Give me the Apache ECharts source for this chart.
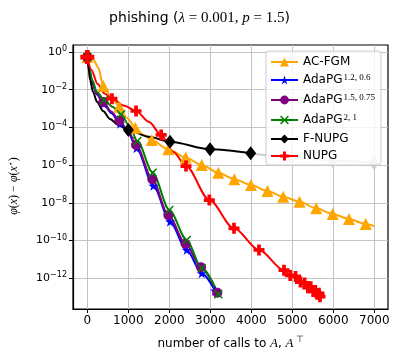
<!DOCTYPE html>
<html lang="en">

<head>
    <meta charset="UTF-8">
    <title>phishing</title>
    <script src="https://cdn.jsdelivr.net/npm/echarts@6/dist/echarts.min.js"></script>
    <style>
        body { margin: 0; background: #fff; }
    </style>
</head>

<body>
    <div id="chart" style="width:399px; height:358px;"></div>
    <script>
        // tick positions
        const xTicks = [0, 1000, 2000, 3000, 4000, 5000, 6000, 7000]
        const yTicks = [0, -2, -4, -6, -8, -10, -12]   // exponents of 10

        // series: x = number of calls, y = log10(gap)
        const acX = [0, 150, 260, 390, 560, 780, 970, 1170, 1370, 1570, 1975, 2400, 2790, 3195, 3585, 3993, 4395, 4780, 5176, 5585, 5985, 6383, 6790, 6993]
        const acY = [-0.27, -0.42, -0.8, -1.8, -2.3, -2.9, -3.5, -4.02, -4.4, -4.67, -5.16, -5.59, -6.0, -6.4, -6.75, -7.06, -7.37, -7.68, -7.94, -8.29, -8.59, -8.86, -9.12, -9.23]
        const acMarks = [0, 3, 5, 7, 9, 10, 11, 12, 13, 14, 15, 16, 17, 18, 19, 20, 21, 22]

        const ada1X = [0, 50, 120, 230, 400, 590, 800, 1000, 1200, 1610, 2017, 2424, 2790, 3115]
        const ada1Y = [-0.27, -1.0, -1.65, -2.25, -2.75, -3.25, -3.8, -4.3, -5.1, -7.1, -9.0, -10.5, -11.74, -12.66]
        const ada1Marks = [0, 4, 6, 8, 9, 10, 11, 12, 13]

        const ada2X = [0, 50, 120, 230, 390, 580, 780, 990, 1188, 1585, 1976, 2395, 2773, 3171]
        const ada2Y = [-0.27, -0.95, -1.6, -2.2, -2.65, -3.15, -3.64, -4.15, -4.93, -6.75, -8.65, -10.17, -11.42, -12.77]
        const ada2Marks = [0, 4, 6, 8, 9, 10, 11, 12, 13]

        const ada3X = [0, 50, 120, 230, 410, 610, 822, 1020, 1220, 1595, 2000, 2424, 2790, 3195]
        const ada3Y = [-0.27, -0.85, -1.5, -2.1, -2.55, -2.9, -3.3, -3.9, -4.72, -6.4, -8.38, -9.97, -11.47, -12.85]
        const ada3Marks = [0, 4, 6, 8, 9, 10, 11, 12, 13]

        const fnX = [0, 20, 66, 139, 237, 383, 554, 749, 1000, 1500, 2017, 2993, 3985]
        const fnY = [-0.27, -0.69, -1.49, -2.12, -2.65, -3.13, -3.55, -3.87, -4.14, -4.5, -4.76, -5.16, -5.37]
        const fnMarks = [0, 8, 10, 11, 12]

        const greyX = [3985, 4968, 5985, 6993]
        const greyY = [-5.37, -5.59, -5.77, -5.87]
        const greyMarks = [1, 2, 3]

        const nuX = [0, 100, 250, 420, 600, 900, 1188, 1500, 1800, 2100, 2407, 2976, 3578, 4188, 4798, 4950, 5080, 5200, 5300, 5380, 5450, 5510, 5560, 5610, 5650, 5676]
        const nuY = [-0.27, -0.95, -1.7, -2.2, -2.48, -2.85, -3.13, -3.7, -4.40, -5.3, -6.05, -7.85, -9.35, -10.5, -11.57, -11.85, -11.9, -12.2, -12.25, -12.5, -12.45, -12.7, -12.65, -12.85, -12.8, -12.98]
        const nuMarks = [0, 4, 6, 8, 10, 11, 12, 13, 14, 15, 16, 17, 18, 19, 20, 21, 22, 23, 24, 25]

        const names = ['AC-FGM', 'AdaPG 1.2, 0.6', 'AdaPG 1.5, 0.75', 'AdaPG 2, 1', 'F-NUPG', 'NUPG']
        const sups = ['', '1.2, 0.6', '1.5, 0.75', '2, 1', '', '']

        // marker shapes
        const star = 'path://M50,0L61.8,35.1L98.9,35.1L68.9,56.8L80.3,91.9L50,70.2L19.7,91.9L31.1,56.8L1.1,35.1L38.2,35.1Z'
        const xMark = 'path://M0,12L12,0L50,38L88,0L100,12L62,50L100,88L88,100L50,62L12,100L0,88L38,50Z'
        const plusP = 'path://M33,0H67V33H100V67H67V100H33V67H0V33H33Z'

        const toData = (xs, ys, marks) => xs.map((x, i) => ({
            value: [x, ys[i]],
            symbol: marks.includes(i) ? undefined : 'none'
        }))

        const makeSeries = (name, xs, ys, marks, color, symbol, size) => ({
            name: name,
            type: 'line',
            data: toData(xs, ys, marks),
            symbol: symbol,
            symbolSize: size,
            showSymbol: true,
            smooth: 0.3,
            smoothMonotone: 'x',
            lineStyle: { color: color, width: 2 },
            itemStyle: { color: color },
            emphasis: { disabled: true },
            animation: false
        })

        const series = [
            makeSeries(names[0], acX, acY, acMarks, '#ffa500', 'triangle', 12),
            makeSeries(names[1], ada1X, ada1Y, ada1Marks, '#0000ff', star, 10),
            makeSeries(names[2], ada2X, ada2Y, ada2Marks, '#800080', 'circle', 10),
            makeSeries(names[3], ada3X, ada3Y, ada3Marks, '#008000', xMark, 9),
            makeSeries(names[4], fnX, fnY, fnMarks, '#000000', 'diamond', [11, 14]),
            makeSeries(names[5], nuX, nuY, nuMarks, '#ff0000', plusP, 11),
            makeSeries('grey', greyX, greyY, greyMarks, '#cccccc', 'diamond', [11, 14])
        ]
        series[5].data[0].symbolSize = 14

        const serif = 'Liberation Serif'
        const sans = 'DejaVu Sans'

        const myChart = echarts.init(document.getElementById('chart'))

        const option = {
            backgroundColor: '#fff',
            animation: false,
            title: {
                text: '{a|phishing (}{m|λ}{b| = 0.001, }{m|p}{b| = 1.5}{a|)}',
                left: 'center',
                top: 6,
                textStyle: {
                    fontWeight: 'normal',
                    rich: {
                        a: { fontFamily: sans, fontSize: 14, fontWeight: 'normal', color: '#000' },
                        b: { fontFamily: serif, fontSize: 15, fontWeight: 'normal', color: '#000' },
                        m: { fontFamily: serif, fontStyle: 'italic', fontSize: 15, fontWeight: 'normal', color: '#000' }
                    }
                }
            },
            grid: {
                left: 73,
                right: 11,
                top: 45,
                bottom: 49,
                show: true,
                borderColor: '#000',
                borderWidth: 1.2
            },
            legend: {
                data: names,
                orient: 'vertical',
                right: 18,
                top: 51,
                itemWidth: 27,
                itemHeight: 11,
                itemGap: 5,
                padding: [5, 6, 3, 4],
                backgroundColor: 'rgba(255,255,255,0.8)',
                borderColor: '#cccccc',
                borderWidth: 1,
                borderRadius: 3,
                formatter: function (name) {
                    const i = names.indexOf(name)
                    if (sups[i]) return '{t|AdaPG}{s|' + sups[i] + '}'
                    return '{t|' + name + '}'
                },
                textStyle: {
                    rich: {
                        t: { fontFamily: sans, fontSize: 12, color: '#000', lineHeight: 14 },
                        s: { fontFamily: serif, fontSize: 9, color: '#000', verticalAlign: 'top', lineHeight: 14, padding: [0, 0, 6, 1] }
                    }
                }
            },
            xAxis: {
                type: 'value',
                min: -350,
                max: 7335,
                name: '{t|number of calls to }{m|A}{t|, }{m|A}{s|⊤}',
                nameLocation: 'middle',
                nameGap: 26,
                nameTextStyle: {
                    rich: {
                        t: { fontFamily: sans, fontSize: 12, color: '#000' },
                        m: { fontFamily: serif, fontStyle: 'italic', fontSize: 13, color: '#000' },
                        s: { fontFamily: serif, fontSize: 9, color: '#000', verticalAlign: 'top', padding: [0, 0, 8, 2] }
                    }
                },
                axisLine: { onZero: false, lineStyle: { color: '#000', width: 1.2 } },
                axisTick: { customValues: xTicks, length: 4, lineStyle: { color: '#000' } },
                axisLabel: {
                    customValues: xTicks,
                    formatter: (v) => String(v),
                    fontFamily: sans, fontSize: 12, color: '#000', margin: 6
                },
                splitLine: { show: true, lineStyle: { color: '#c4c4c4', width: 1 } }
            },
            yAxis: {
                type: 'value',
                min: -13.63,
                max: 0.37,
                axisLine: { onZero: false, lineStyle: { color: '#000', width: 1.2 } },
                axisTick: { customValues: yTicks, length: 4, lineStyle: { color: '#000' } },
                axisLabel: {
                    customValues: yTicks,
                    margin: 6,
                    formatter: function (v) {
                        const e = Math.round(v)
                        return '{b|10}{s|' + (e < 0 ? '−' + (-e) : e) + '}'
                    },
                    rich: {
                        b: { fontFamily: sans, fontSize: 11, color: '#000' },
                        s: { fontFamily: sans, fontSize: 8, color: '#000', verticalAlign: 'top', padding: [0, 0, 6, 0] }
                    }
                },
                splitLine: { show: true, lineStyle: { color: '#c4c4c4', width: 1 } }
            },
            graphic: [{
                type: 'text',
                x: 14,
                y: 186,
                rotation: Math.PI / 2,
                style: {
                    text: '{i|φ}{n|(}{i|x}{n|) − }{i|φ}{n|(}{i|x}{s|⋆}{n|)}',
                    align: 'center',
                    verticalAlign: 'middle',
                    rich: {
                        i: { fontFamily: serif, fontStyle: 'italic', fontSize: 12, fill: '#000' },
                        n: { fontFamily: serif, fontSize: 12, fill: '#000' },
                        s: { fontFamily: sans, fontSize: 8, fill: '#000', verticalAlign: 'top', padding: [0, 0, 6, 0] }
                    }
                }
            }],
            series: series
        }

        myChart.setOption(option)
    </script>
</body>

</html>
